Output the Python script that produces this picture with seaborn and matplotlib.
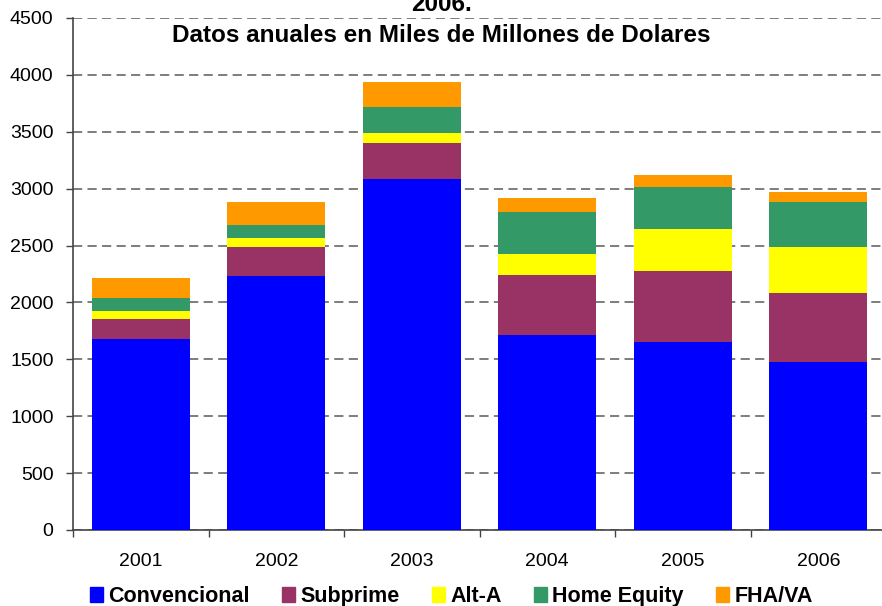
import matplotlib
matplotlib.use("Agg")
import matplotlib.pyplot as plt
import matplotlib.patches as mpatches
import seaborn as sns
import pandas as pd
import numpy as np

# Data (miles de millones de dolares)
years = ['2001', '2002', '2003', '2004', '2005', '2006']
series = ['Convencional', 'Subprime', 'Alt-A', 'Home Equity', 'FHA/VA']
convencional = [1680, 2230, 3085, 1715, 1650, 1480]
subprime = [175, 255, 315, 525, 625, 605]
alt_a = [70, 80, 90, 185, 370, 405]
home_equity = [115, 120, 230, 370, 370, 395]
fha_va = [175, 195, 220, 125, 105, 90]
colors = ['#0000FF', '#993366', '#FFFF00', '#339966', '#FF9900']

sns.set_style("white")
plt.rcParams['font.family'] = ['Liberation Sans', 'DejaVu Sans']
plt.rcParams['text.color'] = 'black'
plt.rcParams['xtick.color'] = 'black'
plt.rcParams['ytick.color'] = 'black'

values = np.array([convencional, subprime, alt_a, home_equity, fha_va])
cum = np.cumsum(values, axis=0)

fig = plt.figure(figsize=(8.82, 6.06), dpi=100)
ax = fig.add_axes([73 / 882, 1 - 530 / 606, (886 - 73) / 882, 512 / 606])

# stacked bars: draw cumulative totals from top layer down
for i in range(len(series) - 1, -1, -1):
    df = pd.DataFrame({'Year': years, 'Value': cum[i]})
    sns.barplot(data=df, x='Year', y='Value', color=colors[i], saturation=1,
                width=0.72, ax=ax, zorder=3, linewidth=0, edgecolor='none')

ax.set_ylim(0, 4500)
ax.set_xlim(-0.5, 5.5)
ax.set_yticks(range(0, 4501, 500))
ax.yaxis.grid(True, linestyle=(0, (6, 3.5)), color='#5a5a5a', linewidth=1.1, zorder=0)
ax.set_axisbelow(True)
ax.set_xlabel('')
ax.set_ylabel('')

for side in ['top', 'right']:
    ax.spines[side].set_visible(False)
for side in ['left', 'bottom']:
    ax.spines[side].set_color('#444444')
    ax.spines[side].set_linewidth(1.2)

ax.tick_params(axis='y', left=True, length=5, width=1, color='#444444',
               labelsize=14, pad=9)
ax.tick_params(axis='x', bottom=False, labelsize=14, pad=13)
ax.set_xticks(np.arange(-0.5, 6, 1), minor=True)
ax.tick_params(axis='x', which='minor', bottom=True, length=5, width=1,
               color='#444444')

# title (first line cut off at top, as in the source)
fig.text(0.5, 0.992, '2006.', ha='center', va='center', fontsize=17.5,
         fontweight='bold')
fig.text(0.5, 0.942, 'Datos anuales en Miles de Millones de Dolares',
         ha='center', va='center', fontsize=17.5, fontweight='bold')

handles = [mpatches.Patch(color=c, label=s) for c, s in zip(colors, series)]
fig.legend(handles=handles, loc='center', bbox_to_anchor=(0.512, 0.015),
           ncol=5, frameon=False, prop={'weight': 'bold', 'size': 15.5},
           handlelength=0.6, handleheight=0.7, handletextpad=0.25,
           columnspacing=1.5, borderpad=0, borderaxespad=0)

fig.savefig('out.png', dpi=100)
